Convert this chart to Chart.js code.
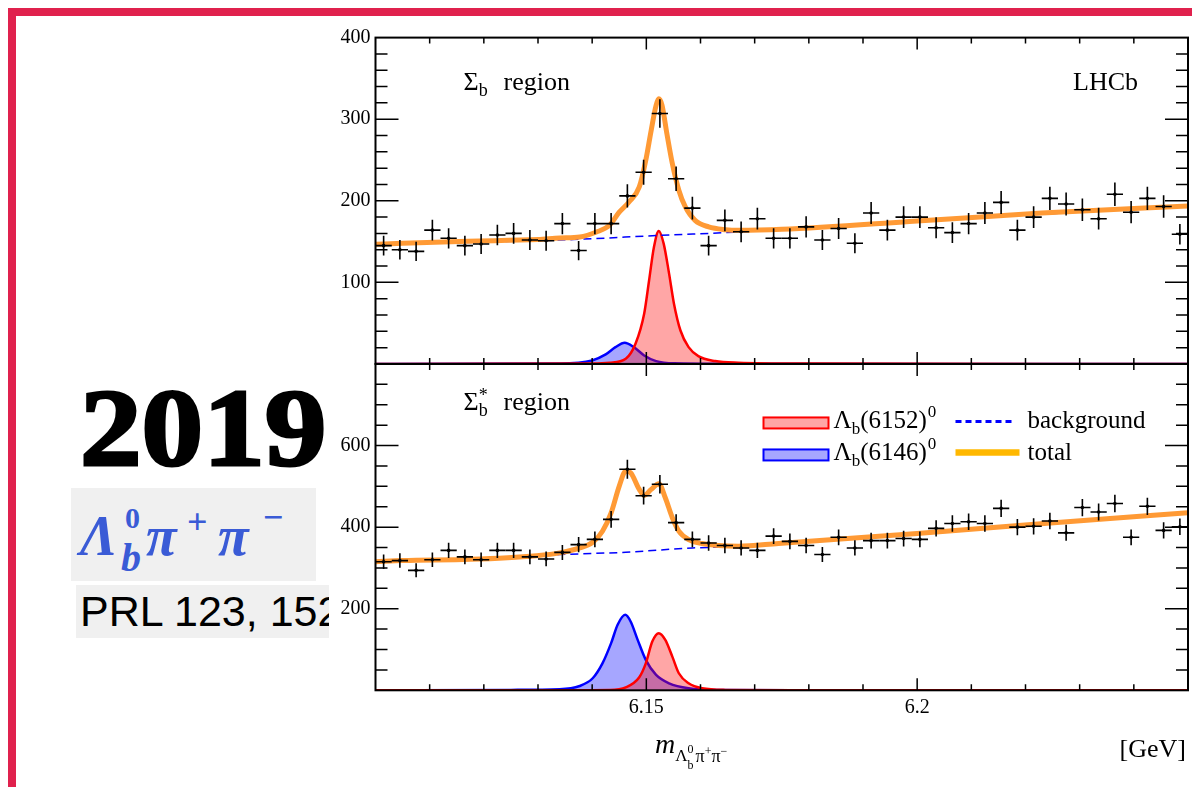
<!DOCTYPE html>
<html>
<head>
<meta charset="utf-8">
<script src="https://cdn.jsdelivr.net/npm/chart.js@4.4.1/dist/chart.umd.min.js"></script>
<style>
  html, body { margin: 0; padding: 0; background: #fff; }
  body { width: 1192px; height: 787px; position: relative; overflow: hidden; }
  .redTop { position: absolute; left: 8px; top: 8px; width: 1184px; height: 8px; background: #e0214d; }
  .redLeft { position: absolute; left: 8px; top: 8px; width: 8px; height: 779px; background: #e0214d; }
  .year { position: absolute; left: 80px; top: 373px; font: bold 110px "Liberation Serif", serif; line-height: 1;
          -webkit-text-stroke: 3px #000; color: #000; transform: scaleX(1.12); transform-origin: left top; }
  .decay { position: absolute; left: 71px; top: 488px; width: 245px; height: 93px; background: #f0f0f0; color: #3a5bd6; }
  .decay span { position: absolute; line-height: 1; font-family: "Liberation Serif", serif; font-style: italic; font-weight: bold; white-space: nowrap; }
  .ref { position: absolute; left: 76px; top: 585px; width: 253px; height: 53px; background: #f0f0f0; overflow: hidden;
         white-space: nowrap; font: 43px "Liberation Sans", Arial, sans-serif; line-height: 53px; padding-left: 4px; box-sizing: border-box; }
  #plotBox { position: absolute; left: 330px; top: 20px; width: 862px; height: 767px; background: #fff; }
</style>
</head>
<body>
<div class="redTop"></div>
<div class="redLeft"></div>
<div class="year">2019</div>
<div class="decay">
  <span style="left:9px; top:20px; font-size:56px;">Λ</span>
  <span style="left:54px; top:15px; font-size:30px; font-style:normal;">0</span>
  <span style="left:50px; top:50px; font-size:40px;">b</span>
  <span style="left:75px; top:20px; font-size:56px;">π</span>
  <span style="left:116px; top:16px; font-size:36px; font-style:normal;">+</span>
  <span style="left:147px; top:20px; font-size:56px;">π</span>
  <span style="left:192px; top:11px; font-size:36px; font-style:normal;">−</span>
</div>
<div class="ref">PRL 123, 152001 (2019)</div>
<div id="plotBox"><canvas id="massChart" width="862" height="767"></canvas></div>

<script>
// binning of the Λb0π+π− mass histograms
const binStart = 6.10;
const binWidth = 0.003;

// candidates per bin, Σb region (top panel)
const sigmaCounts = [145, 140, 138, 164, 154, 145, 147, 158, 160, 152,
                     151, 172, 139, 172, 172, 206, 235, 307, 227, 191,
                     145, 176, 162, 178, 154, 154, 168, 152, 166, 148,
                     185, 164, 180, 180, 167, 161, 172, 185, 198, 164,
                     180, 203, 196, 189, 178, 208, 186, 203, 193, 159];

// candidates per bin, Σb* region (bottom panel)
const sigmaStarCounts = [315, 318, 294, 320, 343, 327, 320, 343, 343, 327,
                         322, 338, 357, 370, 419, 542, 477, 505, 411, 370,
                         361, 355, 349, 343, 378, 365, 355, 333, 375, 349,
                         367, 367, 372, 370, 397, 409, 413, 409, 446, 400,
                         402, 415, 386, 448, 437, 458, 375, 451, 392, 401];

// fit curves, Σb region
const topTotalX = [6.100, 6.105, 6.117, 6.130, 6.134, 6.1377, 6.1408, 6.1432, 6.1450, 6.1468, 6.1487, 6.1499,
                   6.1509, 6.1518, 6.1523, 6.1529, 6.1538, 6.1548, 6.1560, 6.1572, 6.1590, 6.1615, 6.1646,
                   6.1670, 6.175, 6.200, 6.223, 6.250];
const topTotalY = [146.6, 148, 150.5, 152.4, 154.4, 155.6, 161.7, 170, 186, 198.5, 217, 249.7,
                   286.5, 317, 325, 317, 282, 245.6, 213, 192.4, 176, 168, 164.6,
                   163.8, 165, 175.2, 185, 193.6];
const topBkgX = [6.100, 6.120, 6.1365, 6.1523, 6.167, 6.200, 6.250];
const topBkgY = [146.5, 149.5, 152.5, 157.5, 161.7, 175, 193.5];
const topRedX = [6.100, 6.140, 6.1432, 6.1462, 6.1480, 6.1496, 6.1505, 6.1514, 6.1523, 6.1532, 6.1542,
                 6.1551, 6.1563, 6.1578, 6.1596, 6.1627, 6.167, 6.180, 6.250];
const topRedY = [0, 0.5, 1.5, 6.4, 24.8, 61.6, 102, 143, 163, 147.5, 110.7,
                 73.9, 41, 20.6, 9.6, 3.5, 1.5, 0.5, 0];
const topBlueX = [6.100, 6.134, 6.1400, 6.1425, 6.1443, 6.1460, 6.1477, 6.1496, 6.1518, 6.1552, 6.165, 6.250];
const topBlueY = [0, 0.5, 4.3, 11.7, 20.6, 26, 20.6, 10.4, 3.5, 0.8, 0.2, 0];

// fit curves, Σb* region
const botTotalX = [6.100, 6.105, 6.1175, 6.1297, 6.1340, 6.1377, 6.1401, 6.1419, 6.1435, 6.1450, 6.1462, 6.1471,
                   6.1487, 6.1496, 6.1509, 6.1523, 6.1535, 6.1548, 6.1560, 6.1578, 6.1603, 6.1633, 6.1670,
                   6.1744, 6.200, 6.2234, 6.250];
const botTotalY = [315, 318, 321, 330, 336.8, 349, 363, 390, 435, 500.6, 537.5, 533.5,
                   492.5, 477.7, 492.5, 506.5, 472, 423, 390, 369.6, 359.7, 354.8, 353,
                   360, 384.3, 409, 435];
const botBkgX = [6.100, 6.1175, 6.134, 6.1462, 6.1585, 6.167, 6.1744, 6.200, 6.2234, 6.250];
const botBkgY = [315, 320.5, 332.7, 338.4, 349, 352, 358, 384, 409, 435];
const botRedX = [6.100, 6.135, 6.1432, 6.1462, 6.1487, 6.1499, 6.1511, 6.1523, 6.1535, 6.1548, 6.1560,
                 6.1578, 6.1603, 6.1646, 6.180, 6.250];
const botRedY = [0, 0.3, 1, 7.3, 32, 66, 119.5, 140, 123.7, 82.6, 41.8,
                 17.2, 4.9, 1, 0.2, 0];
const botBlueX = [6.100, 6.125, 6.134, 6.1377, 6.1401, 6.1419, 6.1435, 6.1447, 6.1461, 6.1471, 6.1484,
                  6.1499, 6.1518, 6.1542, 6.1578, 6.1633, 6.180, 6.250];
const botBlueY = [0, 1, 2.5, 10.6, 29.5, 66, 115.6, 160.6, 185, 168.7, 123.7,
                  74.5, 37.6, 17.2, 4.9, 0.8, 0, 0];

// labelled ticks
const massTicks = [6.15, 6.2];
const topPanelTicks = [100, 200, 300, 400];
const botPanelTicks = [200, 400, 600];

const serif = '"Liberation Serif", "Times New Roman", serif';
const orange = '#ff9a35';
const redLine = '#ff0000';
const blueLine = '#0000ff';
const redFill = 'rgba(255, 0, 0, 0.35)';
const blueFill = 'rgba(0, 0, 255, 0.35)';

// join x and y lists into points
function toPoints(xs, ys) {
  return xs.map((x, i) => ({ x: x, y: ys[i] }));
}

function binPoints(counts) {
  return counts.map((c, i) => ({ x: binStart + binWidth * (i + 0.5), y: c }));
}

// write text in pieces (sub/superscripts), returns end x
function drawPieces(ctx, pieces, x, y) {
  pieces.forEach(([t, size, dy, style]) => {
    ctx.font = (style || '') + ' ' + size + 'px ' + serif;
    ctx.fillText(t, x, y + dy);
    x += ctx.measureText(t).width;
  });
  return x;
}

// ROOT-like frame, inward ticks and error bars
const rootFrame = {
  id: 'rootFrame',
  afterDatasetsDraw(chart) {
    const ctx = chart.ctx;
    const area = chart.chartArea;
    const xs = chart.scales.x;
    ctx.save();

    // error bars of the data
    ctx.strokeStyle = '#000';
    ctx.lineWidth = 1.6;
    chart.data.datasets.forEach((ds) => {
      if (!ds.errorBars) return;
      const ys = chart.scales[ds.yAxisID];
      ds.data.forEach((p) => {
        const err = Math.sqrt(p.y);
        const py = ys.getPixelForValue(p.y);
        const px = xs.getPixelForValue(p.x);
        ctx.beginPath();
        ctx.moveTo(xs.getPixelForValue(p.x - binWidth / 2), py);
        ctx.lineTo(xs.getPixelForValue(p.x + binWidth / 2), py);
        ctx.moveTo(px, ys.getPixelForValue(p.y - err));
        ctx.lineTo(px, ys.getPixelForValue(p.y + err));
        ctx.stroke();
      });
    });

    // panels
    const panels = [
      { id: 'yTop', minor: 20, major: 100 },
      { id: 'yBot', minor: 50, major: 200 }
    ];
    panels.forEach((pn) => {
      const ys = chart.scales[pn.id];
      ctx.lineWidth = 2;
      ctx.strokeRect(area.left, ys.top, area.right - area.left, ys.bottom - ys.top);
      ctx.lineWidth = 1.5;
      ctx.beginPath();
      const n = Math.round((ys.max - ys.min) / pn.minor);
      for (let k = 1; k < n; k++) {
        const v = ys.min + k * pn.minor;
        const big = Math.abs(v / pn.major - Math.round(v / pn.major)) < 1e-6;
        const len = big ? 23 : 12;
        const py = ys.getPixelForValue(v);
        ctx.moveTo(area.left, py);
        ctx.lineTo(area.left + len, py);
        ctx.moveTo(area.right, py);
        ctx.lineTo(area.right - len, py);
      }
      const nx = Math.round((xs.max - xs.min) / 0.01);
      for (let k = 1; k < nx; k++) {
        const px = xs.getPixelForValue(xs.min + k * 0.01);
        const len = k % 5 === 0 ? 12 : 6;
        ctx.moveTo(px, ys.top);
        ctx.lineTo(px, ys.top + len);
        ctx.moveTo(px, ys.bottom);
        ctx.lineTo(px, ys.bottom - len);
      }
      ctx.stroke();
    });
    ctx.restore();
  }
};

// panel captions, legend and axis title
const captions = {
  id: 'captions',
  afterDraw(chart) {
    const ctx = chart.ctx;
    const area = chart.chartArea;
    const yTop = chart.scales.yTop;
    const yBot = chart.scales.yBot;
    ctx.save();
    ctx.fillStyle = '#000';
    ctx.textBaseline = 'alphabetic';
    ctx.textAlign = 'left';

    // Σb region
    let by = yTop.top + 52.4;
    drawPieces(ctx, [['Σ', 26, 0], ['b', 18, 6]], area.left + 88, by);
    drawPieces(ctx, [['region', 26, 0]], area.left + 128, by);

    // LHCb
    ctx.textAlign = 'right';
    ctx.font = '26px ' + serif;
    ctx.fillText('LHCb', area.right - 50, by);
    ctx.textAlign = 'left';

    // Σb* region
    by = yBot.top + 46;
    let x = drawPieces(ctx, [['Σ', 26, 0]], area.left + 88, by);
    drawPieces(ctx, [['*', 18, -9]], x, by);
    drawPieces(ctx, [['b', 18, 6]], x, by);
    drawPieces(ctx, [['region', 26, 0]], area.left + 128, by);

    // legend
    const lx = area.left + 388;
    const rows = [yBot.top + 64.5, yBot.top + 96.5];
    ctx.lineWidth = 2;
    ctx.fillStyle = redFill;
    ctx.fillRect(lx, rows[0] - 11, 65, 11);
    ctx.strokeStyle = redLine;
    ctx.strokeRect(lx, rows[0] - 11, 65, 11);
    ctx.fillStyle = blueFill;
    ctx.fillRect(lx, rows[1] - 11, 65, 11);
    ctx.strokeStyle = blueLine;
    ctx.strokeRect(lx, rows[1] - 11, 65, 11);

    ctx.fillStyle = '#000';
    const names = ['6152', '6146'];
    rows.forEach((ry, i) => {
      let tx = drawPieces(ctx, [['Λ', 25, 0]], lx + 70, ry);
      tx = drawPieces(ctx, [['b', 17, 6], ['(' + names[i] + ')', 25, 0]], tx, ry);
      drawPieces(ctx, [['0', 17, -11]], tx + 1, ry);
    });

    ctx.strokeStyle = blueLine;
    ctx.lineWidth = 3;
    ctx.setLineDash([6, 4]);
    ctx.beginPath();
    ctx.moveTo(lx + 192, rows[0] - 7);
    ctx.lineTo(lx + 250, rows[0] - 7);
    ctx.stroke();
    ctx.setLineDash([]);
    ctx.strokeStyle = '#ffb800';
    ctx.lineWidth = 6.5;
    ctx.beginPath();
    ctx.moveTo(lx + 192, rows[1] - 8);
    ctx.lineTo(lx + 256, rows[1] - 8);
    ctx.stroke();
    drawPieces(ctx, [['background', 25, 0]], lx + 264, rows[0]);
    drawPieces(ctx, [['total', 25, 0]], lx + 264, rows[1]);

    // axis title
    const ty = yBot.bottom + 62.7;
    x = drawPieces(ctx, [['m', 28, 0, 'italic']], 325, ty);
    x = drawPieces(ctx, [['Λ', 17, 8]], x, ty);
    drawPieces(ctx, [['b', 12, 16]], x, ty);
    x = drawPieces(ctx, [['0', 12, 0]], x, ty);
    drawPieces(ctx, [['π', 18, 9], ['+', 12, 2], ['π', 18, 9], ['−', 12, 2]], x + 2, ty);
    ctx.textAlign = 'right';
    ctx.font = '26px ' + serif;
    ctx.fillText('[GeV]', 856, ty + 4);
    ctx.restore();
  }
};

const curveStyle = { showLine: true, pointRadius: 0, cubicInterpolationMode: 'monotone' };

new Chart(document.getElementById('massChart').getContext('2d'), {
  type: 'line',
  data: {
    datasets: [
      { label: 'data Σb', data: binPoints(sigmaCounts), yAxisID: 'yTop', showLine: false, errorBars: true,
        pointRadius: 1.8, pointBackgroundColor: '#000', pointBorderWidth: 0 },
      { label: 'data Σb*', data: binPoints(sigmaStarCounts), yAxisID: 'yBot', showLine: false, errorBars: true,
        pointRadius: 1.8, pointBackgroundColor: '#000', pointBorderWidth: 0 },
      { ...curveStyle, label: 'total', data: toPoints(topTotalX, topTotalY), yAxisID: 'yTop', borderColor: orange, borderWidth: 5 },
      { ...curveStyle, label: 'total', data: toPoints(botTotalX, botTotalY), yAxisID: 'yBot', borderColor: orange, borderWidth: 5 },
      { ...curveStyle, label: 'background', data: toPoints(topBkgX, topBkgY), yAxisID: 'yTop', borderColor: blueLine,
        borderWidth: 1.5, borderDash: [8, 5] },
      { ...curveStyle, label: 'background', data: toPoints(botBkgX, botBkgY), yAxisID: 'yBot', borderColor: blueLine,
        borderWidth: 1.5, borderDash: [8, 5] },
      { ...curveStyle, label: 'Λb(6152)0', data: toPoints(topRedX, topRedY), yAxisID: 'yTop', borderColor: redLine,
        borderWidth: 2.5, fill: 'origin', backgroundColor: redFill },
      { ...curveStyle, label: 'Λb(6152)0', data: toPoints(botRedX, botRedY), yAxisID: 'yBot', borderColor: redLine,
        borderWidth: 2.5, fill: 'origin', backgroundColor: redFill },
      { ...curveStyle, label: 'Λb(6146)0', data: toPoints(topBlueX, topBlueY), yAxisID: 'yTop', borderColor: blueLine,
        borderWidth: 2.5, fill: 'origin', backgroundColor: blueFill },
      { ...curveStyle, label: 'Λb(6146)0', data: toPoints(botBlueX, botBlueY), yAxisID: 'yBot', borderColor: blueLine,
        borderWidth: 2.5, fill: 'origin', backgroundColor: blueFill }
    ]
  },
  options: {
    responsive: false,
    animation: false,
    devicePixelRatio: 1,
    layout: { padding: { top: 17.6, right: 2, left: 0, bottom: 0 } },
    plugins: { legend: { display: false }, tooltip: { enabled: false } },
    scales: {
      x: {
        type: 'linear', position: 'bottom', min: 6.10, max: 6.25,
        grid: { display: false, drawTicks: false }, border: { display: false },
        afterBuildTicks: (s) => { s.ticks = massTicks.map((v) => ({ value: v })); },
        afterFit: (s) => { s.height = 96.7; },
        ticks: { padding: 5, color: '#000', font: { family: serif, size: 20 }, maxRotation: 0,
                 callback: (v) => String(+v.toFixed(3)) }
      },
      // left axes sharing one stack are placed top-down from the last one defined
      yBot: {
        type: 'linear', position: 'left', stack: 'panels', stackWeight: 1, min: 0, max: 800,
        grid: { display: false, drawTicks: false }, border: { display: false },
        afterBuildTicks: (s) => { s.ticks = botPanelTicks.map((v) => ({ value: v })); },
        afterFit: (s) => { s.width = 45.5; },
        ticks: { padding: 5, color: '#000', font: { family: serif, size: 20 } }
      },
      yTop: {
        type: 'linear', position: 'left', stack: 'panels', stackWeight: 1, min: 0, max: 400,
        grid: { display: false, drawTicks: false }, border: { display: false },
        afterBuildTicks: (s) => { s.ticks = topPanelTicks.map((v) => ({ value: v })); },
        afterFit: (s) => { s.width = 45.5; },
        ticks: { padding: 5, color: '#000', font: { family: serif, size: 20 } }
      }
    }
  },
  plugins: [rootFrame, captions]
});
</script>
</body>
</html>
